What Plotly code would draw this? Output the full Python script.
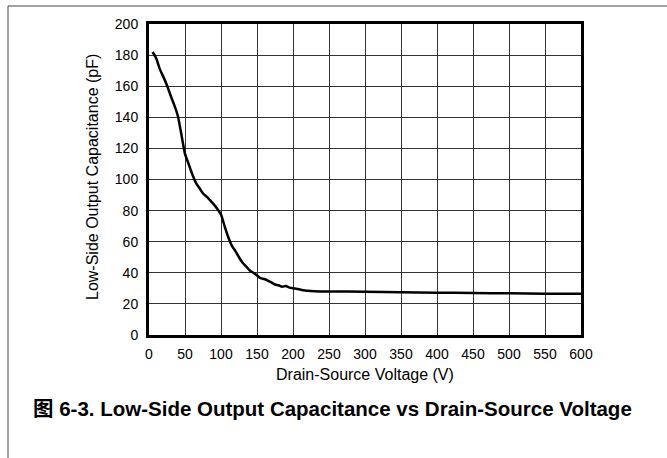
import plotly.graph_objects as go

# Data
voltage_v = [5, 10, 15, 20, 25, 30, 35, 40, 45, 50, 55, 60, 65, 70, 75, 80, 85, 90, 95,
             100, 105, 110, 115, 120, 125, 130, 135, 140, 145, 150, 155, 160, 165, 170,
             175, 180, 185, 190, 195, 200, 210, 220, 230, 250, 300, 350, 400, 450, 500,
             550, 600]
capacitance_pf = [182, 178, 171, 166, 160.5, 154, 148, 141, 129, 116.5, 110, 103.5, 98, 94.5,
                  91, 89, 86.6, 84, 81, 77.5, 70, 63, 57.5, 54, 50, 46.5, 44, 41.5, 40, 38.3,
                  36.5, 36, 35, 33.8, 32.5, 32, 31, 31.5, 30.5, 30, 29.2, 28.5, 28.2, 28,
                  27.8, 27.5, 27.2, 27, 26.8, 26.6, 26.5]
x_ticks = [0, 50, 100, 150, 200, 250, 300, 350, 400, 450, 500, 550, 600]
y_ticks = [0, 20, 40, 60, 80, 100, 120, 140, 160, 180, 200]

x_title = "Drain-Source Voltage (V)"
y_title = "Low-Side Output Capacitance (pF)"
caption = "图 6-3. Low-Side Output Capacitance vs Drain-Source Voltage"

W, H = 667, 458
L, R, T, B = 149, 581, 24, 335  # plot area in pixels
pw, ph = R - L, B - T

def px(x):
    return (x - L) / pw

def py(y):
    return (B - y) / ph

font_family = "Arial, Liberation Sans, Noto Sans CJK SC, sans-serif"

fig = go.Figure()
fig.add_trace(go.Scatter(x=voltage_v, y=capacitance_pf, mode="lines",
                         line=dict(color="black", width=2.5, shape="spline", smoothing=0.6),
                         showlegend=False, hoverinfo="skip"))

fig.update_layout(
    width=W, height=H,
    margin=dict(l=L, r=W - R, t=T, b=H - B, pad=0),
    paper_bgcolor="white", plot_bgcolor="white",
    font=dict(family=font_family, color="black", size=14),
    xaxis=dict(range=[0, 600], tickvals=x_ticks, ticktext=[str(v) for v in x_ticks],
               showgrid=True, gridcolor="#333333", gridwidth=1,
               showline=True, linecolor="black", linewidth=3, mirror=True,
               ticks="", zeroline=False, tickfont=dict(size=14), ticklabelstandoff=4),
    yaxis=dict(range=[0, 200], tickvals=y_ticks, ticktext=[str(v) for v in y_ticks],
               showgrid=True, gridcolor="#333333", gridwidth=1,
               showline=True, linecolor="black", linewidth=3, mirror=True,
               ticks="", zeroline=False, tickfont=dict(size=14), ticklabelstandoff=5),
)

annotations = [
    dict(text=x_title, x=px(365), y=py(374), xref="paper", yref="paper",
         showarrow=False, xanchor="center", yanchor="middle", font=dict(size=16)),
    dict(text=y_title, x=px(92), y=py(177), xref="paper", yref="paper",
         showarrow=False, xanchor="center", yanchor="middle", textangle=-90,
         font=dict(size=16)),
    dict(text="<b>" + caption + "</b>", x=px(31), y=py(408), xref="paper", yref="paper",
         showarrow=False, xanchor="left", yanchor="middle", font=dict(size=20.5)),
]
fig.update_layout(annotations=annotations)

shapes = [
    dict(type="line", xref="paper", yref="paper", x0=px(8), x1=px(668), y0=py(6), y1=py(6),
         line=dict(color="#444444", width=1)),
    dict(type="line", xref="paper", yref="paper", x0=px(8), x1=px(8), y0=py(6), y1=py(460),
         line=dict(color="#444444", width=1)),
]
fig.update_layout(shapes=shapes)

fig.write_html("out.html", config={"displayModeBar": False},
               post_script="document.body.style.margin='0';document.body.style.overflow='hidden';")
